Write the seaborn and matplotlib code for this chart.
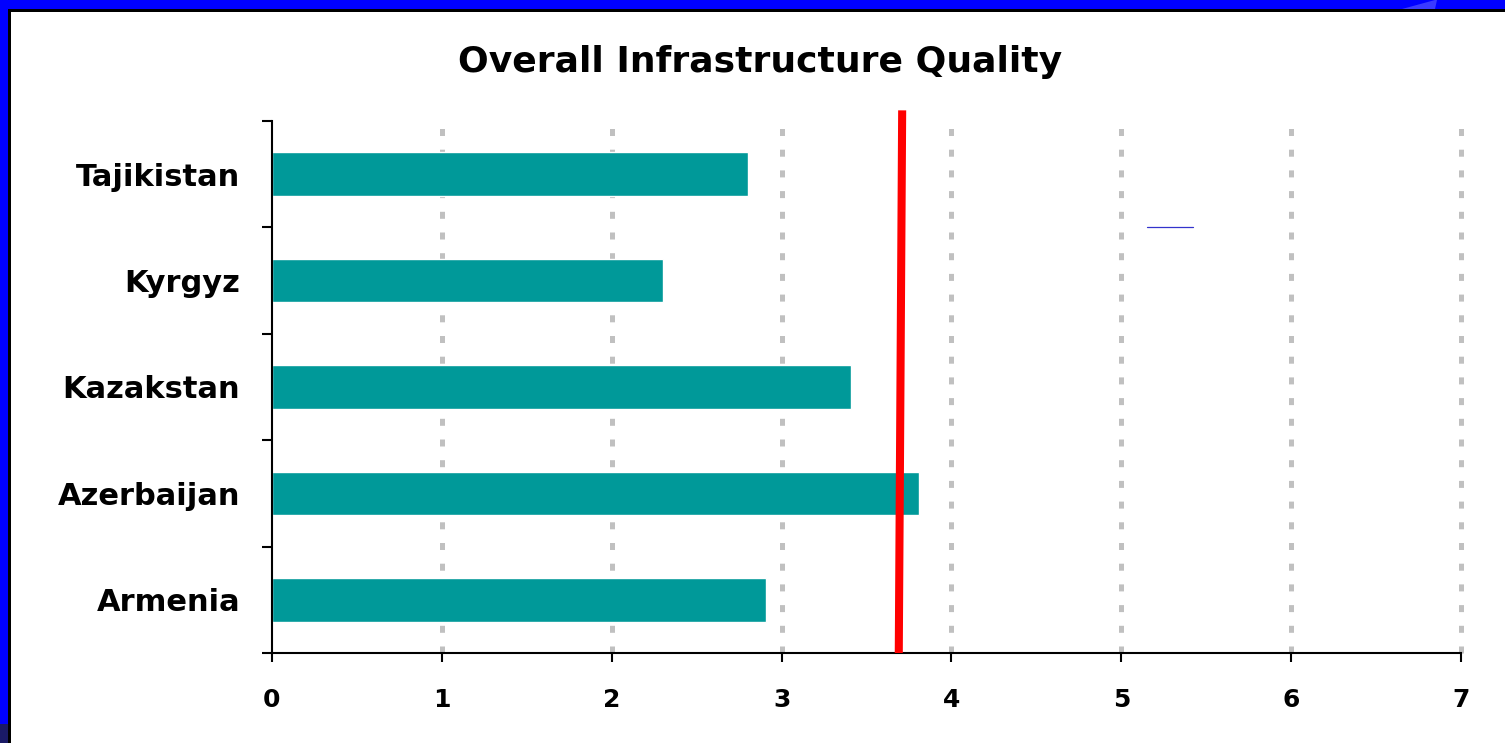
import matplotlib
matplotlib.use("Agg")
import matplotlib.pyplot as plt
import seaborn as sns
import pandas as pd
from matplotlib.patches import Rectangle, Polygon

countries = ["Tajikistan", "Kyrgyz", "Kazakstan", "Azerbaijan", "Armenia"]
scores = [2.80, 2.30, 3.41, 3.81, 2.91]
benchmark_ends = [3.71, 3.69]          # red reference line (top, bottom)
benchmark_y = [-0.60, 4.5]
stray_x = [5.15, 5.42]
stray_y = [0.5, 0.5]
x_ticks = [0, 1, 2, 3, 4, 5, 6, 7]
title = "Overall Infrastructure Quality"

sns.set_theme(style="white")
plt.rcParams['font.family'] = ['DejaVu Sans']
plt.rcParams['text.color'] = 'black'
plt.rcParams['xtick.color'] = 'black'
plt.rcParams['ytick.color'] = 'black'

fig = plt.figure(figsize=(15.05, 7.43), dpi=100)
fig.patch.set_facecolor("white")

# blue frame (top and left)
H, W = 743, 1505
fig.patches.append(Rectangle((0, 1 - 9 / H), 1, 9 / H, transform=fig.transFigure,
                             facecolor="#0000ff", edgecolor="none", zorder=0))
fig.patches.append(Rectangle((0, 0), 8 / W, 1, transform=fig.transFigure,
                             facecolor="#0000ff", edgecolor="none", zorder=0))
fig.patches.append(Rectangle((0, 0), 8 / W, 19 / H, transform=fig.transFigure,
                             facecolor="#1a1a66", edgecolor="none", zorder=1))
fig.patches.append(Polygon([(1402 / W, 1 - 9 / H), (1435 / W, 1 - 9 / H),
                            (1437 / W, 1.0), (1435 / W, 1.0)],
                           closed=True, transform=fig.transFigure,
                           facecolor="#3a3aff", edgecolor="none", zorder=1))
fig.patches.append(Rectangle((8 / W, 1 - 12 / H), 1 - 8 / W, 3 / H, transform=fig.transFigure,
                             facecolor="black", edgecolor="none", zorder=1))
fig.patches.append(Rectangle((8 / W, 0), 2.5 / W, 1 - 9 / H, transform=fig.transFigure,
                             facecolor="black", edgecolor="none", zorder=1))

ax = fig.add_axes([272 / W, 1 - 653 / H, (1461 - 272) / W, (653 - 121) / H])
df = pd.DataFrame({"country": countries, "score": scores})
sns.barplot(data=df, x="score", y="country", orient="h", color="#009999",
            saturation=1, width=0.41, ax=ax, zorder=2)

ax.set_xlim(0, 7)
ax.set_ylim(4.5, -0.5)
ax.set_xticks(x_ticks)
ax.set_xticklabels([str(t) for t in x_ticks], fontsize=18, fontweight="bold")
ax.set_xlabel("")
ax.set_ylabel("")
for lab in ax.get_yticklabels():
    lab.set_fontweight("bold")
    lab.set_fontsize(22)

ax.set_yticks([i + 0.5 for i in range(-1, len(countries))], minor=True)
ax.tick_params(axis="y", which="major", length=0, pad=23, colors="black")
ax.tick_params(axis="y", which="minor", left=True, length=7.5, width=1.5, direction="out", color="black")
ax.tick_params(axis="x", which="major", bottom=True, length=6.5, width=1.5, direction="out",
               color="black", pad=19, labelcolor="black")

for s in ["top", "right"]:
    ax.spines[s].set_visible(False)
for s in ["left", "bottom"]:
    ax.spines[s].set_color("black")
    ax.spines[s].set_linewidth(1.5)

ax.grid(False)
for t in x_ticks[1:]:
    ax.axvline(t, color="#c0c0c0", linewidth=3.6, linestyle=(0, (1.4, 2.74)), zorder=1,
               clip_on=False)

ax.plot(benchmark_ends, benchmark_y, color="#ff0000", linewidth=5.8, clip_on=False, zorder=4,
        solid_capstyle="butt")
ax.plot(stray_x, stray_y, color="#3333cc", linewidth=0.9, zorder=3)

fig.text(760 / W, 1 - 62 / H, title, ha="center", va="center", fontsize=26, fontweight="bold")

fig.savefig("out.png", dpi=100)
